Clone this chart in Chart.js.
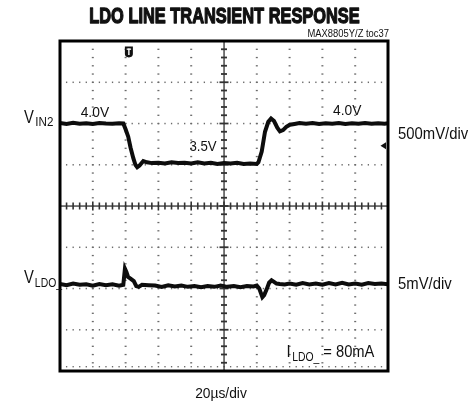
<!DOCTYPE html>
<html>
<head>
<meta charset="utf-8">
<script src="https://cdn.jsdelivr.net/npm/chart.js@4/dist/chart.umd.min.js"></script>
<style>
  html, body { margin: 0; padding: 0; background: #fff; }
  canvas { display: block; }
</style>
</head>
<body>
<canvas id="scope" width="474" height="406"></canvas>
<script>
// Time base: 20 µs/div, 10 divisions
const timeDivs = [0, 20, 40, 60, 80, 100, 120, 140, 160, 180, 200];
// VIN2 channel: 500 mV/div, screen spans 1.0 V .. 5.0 V
const vinDivs = [1.0, 1.5, 2.0, 2.5, 3.0, 3.5, 4.0, 4.5, 5.0];
// VLDO_ channel (AC deviation): 5 mV/div
const ldoDivs = [-10, -5, 0, 5, 10, 15, 20, 25, 30];

// VIN2 trace (µs, V)
const vinTime = [0,4,8,12,16,20,24,28,32,36,38.6,
  40,41.6,43,44.7,46,47.1,48.5,50.8,53,56,
  60,64,68,72,76,80,84,88,92,96,100,104,108,112,116,120,
  121,123,125,127,128.7,130.5,132.5,134.1,136,138,140.2,143,
  146,150,154,158,162,166,170,174,178,182,186,190,194,198,200];
const vinVolts = [4.005,3.995,4.008,3.997,4.004,3.994,4.006,4.0,3.996,4.004,4.0,
  3.93,3.84,3.71,3.58,3.50,3.47,3.49,3.545,3.53,3.52,
  3.525,3.515,3.53,3.52,3.525,3.515,3.53,3.515,3.525,3.51,3.52,3.515,3.525,3.51,3.515,3.51,
  3.53,3.66,3.9,4.02,4.06,4.03,3.95,3.905,3.92,3.96,3.985,3.995,
  4.005,3.996,4.006,3.995,4.004,3.997,4.007,3.995,4.003,3.996,4.006,3.997,4.004,3.998,4.002];

// VLDO_ trace (µs, mV deviation)
const ldoTime = [0,4,8,12,16,20,24,28,32,36,38.6,
  39.6,40.5,41.5,43,45,46.5,48,50,54,
  58,62,66,70,74,78,82,86,90,94,98,102,106,110,114,118,
  120,121.5,123.4,124.5,126,127.5,129,130.5,132,134,137,
  140,144,148,152,156,160,164,168,172,176,180,184,188,192,196,200];
const ldoMillivolts = [0.55,0.4,0.6,0.45,0.5,0.35,0.55,0.4,0.5,0.35,0.45,
  2.4,2.0,1.4,1.2,0.9,0.3,0.2,0.45,0.4,
  0.35,0.2,0.4,0.25,0.35,0.2,0.3,0.15,0.3,0.2,0.35,0.2,0.3,0.15,0.3,0.25,
  0.35,0.0,-1.05,-0.8,-0.1,0.7,1.0,0.8,0.6,0.55,0.5,
  0.6,0.45,0.65,0.5,0.6,0.45,0.65,0.5,0.7,0.5,0.6,0.45,0.65,0.55,0.6,0.5];

const triggerTime = 42;      // trigger position marker
const triggerLevel = 3.73;   // trigger level arrow (V)

const zip = (xs, ys) => xs.map((x, i) => ({ x, y: ys[i] }));

const FONT = "'Liberation Sans', Arial, Helvetica, sans-serif";

function txt(ctx, s, x, y, size, sx, align, weight, stroke) {
  ctx.save();
  ctx.font = (weight || 'normal') + ' ' + size + 'px ' + FONT;
  ctx.textBaseline = 'alphabetic';
  ctx.textAlign = 'left';
  const w = ctx.measureText(s).width * sx;
  let x0 = x;
  if (align === 'center') x0 = x - w / 2;
  else if (align === 'right') x0 = x - w;
  ctx.translate(x0, y);
  ctx.scale(sx, 1);
  ctx.fillStyle = '#111';
  ctx.fillText(s, 0, 0);
  if (stroke) {
    ctx.strokeStyle = '#111';
    ctx.lineWidth = stroke;
    ctx.lineJoin = 'round';
    ctx.strokeText(s, 0, 0);
  }
  ctx.restore();
  return x0 + w;
}

// Scope graticule: dotted divisions, centre crosshair with minor ticks, heavy frame
const graticule = {
  id: 'graticule',
  beforeDatasetsDraw(chart) {
    const { ctx, chartArea: a, scales } = chart;
    const xs = scales.x, ys = scales.y;
    ctx.save();
    ctx.fillStyle = '#6a6a6a';
    // vertical dotted lines
    timeDivs.forEach(t => {
      if (t === 0 || t === 200 || t === 100) return;
      const px = xs.getPixelForValue(t);
      for (let v = 1.0; v <= 5.0001; v += 0.1) {
        const py = ys.getPixelForValue(v);
        ctx.fillRect(px - 1, py - 0.6, 2, 1.3);
      }
    });
    // horizontal dotted lines
    vinDivs.forEach(v => {
      if (v === 1.0 || v === 5.0 || v === 3.0) return;
      const py = ys.getPixelForValue(v);
      for (let t = 0; t <= 200.001; t += 4) {
        const px = xs.getPixelForValue(t);
        ctx.fillRect(px - 0.6, py - 0.7, 1.3, 1.5);
      }
    });
    // dotted row just inside the lower frame
    for (let t = 4; t < 200; t += 4) {
      const px = xs.getPixelForValue(t);
      ctx.fillRect(px - 0.6, a.bottom - 5, 1.3, 1.4);
    }
    // centre crosshair
    const cx = xs.getPixelForValue(100), cy = ys.getPixelForValue(3.0);
    ctx.fillStyle = '#333';
    ctx.fillRect(cx - 0.6, a.top, 1.3, a.bottom - a.top);
    ctx.fillRect(a.left, cy - 0.6, a.right - a.left, 1.3);
    for (let t = 4; t < 200; t += 4) {
      const px = xs.getPixelForValue(t);
      const major = Math.abs(t % 20) < 0.01;
      ctx.fillRect(px - 0.8, cy - (major ? 4.5 : 3.5), 1.6, major ? 9 : 7);
    }
    for (let v = 1.1; v < 4.95; v += 0.1) {
      const py = ys.getPixelForValue(v);
      const major = Math.abs((v * 2) - Math.round(v * 2)) < 0.01;
      ctx.fillRect(cx - (major ? 4.5 : 3), py - 0.9, major ? 9 : 6, 1.8);
    }
    ctx.restore();
  },
  afterDatasetsDraw(chart) {
    const { ctx, chartArea: a, scales } = chart;
    const xs = scales.x, ys = scales.y;
    ctx.save();
    // frame
    ctx.strokeStyle = '#000';
    ctx.lineWidth = 3;
    ctx.strokeRect(a.left, a.top, a.right - a.left, a.bottom - a.top);
    // trigger position marker
    const tx = xs.getPixelForValue(triggerTime);
    const ty = a.top + 5.5;
    ctx.fillStyle = '#111';
    ctx.beginPath();
    ctx.moveTo(tx - 4, ty);
    ctx.lineTo(tx + 4, ty);
    ctx.lineTo(tx + 4, ty + 7.5);
    ctx.quadraticCurveTo(tx + 4, ty + 10.5, tx, ty + 11);
    ctx.quadraticCurveTo(tx - 4, ty + 10.5, tx - 4, ty + 7.5);
    ctx.closePath();
    ctx.fill();
    ctx.fillStyle = '#fff';
    ctx.fillRect(tx - 2.2, ty + 2, 4.4, 1.3);
    ctx.fillRect(tx - 0.7, ty + 2, 1.4, 6.5);
    // trigger level arrow on right edge
    const ly = ys.getPixelForValue(triggerLevel);
    ctx.fillStyle = '#111';
    ctx.beginPath();
    ctx.moveTo(a.right - 7.5, ly);
    ctx.lineTo(a.right - 2, ly - 3.5);
    ctx.lineTo(a.right - 2, ly + 3.5);
    ctx.closePath();
    ctx.fill();
    ctx.restore();
  }
};

// Labels around and inside the screen
const labels = {
  id: 'labels',
  afterDraw(chart) {
    const { ctx } = chart;
    txt(ctx, 'LDO LINE TRANSIENT RESPONSE', 224.5, 23, 22, 0.745, 'center', 'bold', 1.3);
    txt(ctx, 'MAX8805Y/Z toc37', 389, 37, 10, 0.94, 'right');
    // channel names
    let e = txt(ctx, 'V', 24, 123, 18, 0.82, 'left');
    txt(ctx, 'IN2', e + 1.5, 126, 13.5, 0.86, 'left');
    e = txt(ctx, 'V', 24, 283, 18, 0.82, 'left');
    txt(ctx, 'LDO_', e + 1, 287, 13, 0.8, 'left');
    // levels
    txt(ctx, '4.0V', 80.7, 117, 15, 0.92, 'left');
    txt(ctx, '3.5V', 189.5, 151, 15, 0.88, 'left');
    txt(ctx, '4.0V', 333, 115, 15, 0.92, 'left');
    // scale factors
    txt(ctx, '500mV/div', 398, 139, 16.5, 0.9, 'left');
    txt(ctx, '5mV/div', 398, 289, 16.5, 0.9, 'left');
    e = txt(ctx, 'I', 286.5, 357, 16.5, 0.9, 'left');
    e = txt(ctx, 'LDO_', e + 1.5, 361, 13, 0.8, 'left');
    txt(ctx, '= 80mA', e + 4, 357, 16, 0.92, 'left');
    txt(ctx, '20\u00B5s/div', 221, 398, 14.5, 0.95, 'center');
  }
};

new Chart(document.getElementById('scope'), {
  type: 'line',
  data: {
    datasets: [
      { label: 'VIN2', data: zip(vinTime, vinVolts), yAxisID: 'y',
        borderColor: '#0d0d0d', borderWidth: 4, pointRadius: 0, tension: 0 },
      { label: 'VLDO_', data: zip(ldoTime, ldoMillivolts), yAxisID: 'y2',
        borderColor: '#0d0d0d', borderWidth: 4, pointRadius: 0, tension: 0 }
    ]
  },
  options: {
    responsive: false,
    animation: false,
    layout: { padding: { left: 60, top: 41, right: 86, bottom: 35 } },
    plugins: { legend: { display: false }, tooltip: { enabled: false }, title: { display: false } },
    scales: {
      x: { type: 'linear', min: timeDivs[0], max: timeDivs[timeDivs.length - 1], display: false },
      y: { min: vinDivs[0], max: vinDivs[vinDivs.length - 1], display: false },
      y2: { min: ldoDivs[0], max: ldoDivs[ldoDivs.length - 1], display: false }
    }
  },
  plugins: [graticule, labels]
});
</script>
</body>
</html>
